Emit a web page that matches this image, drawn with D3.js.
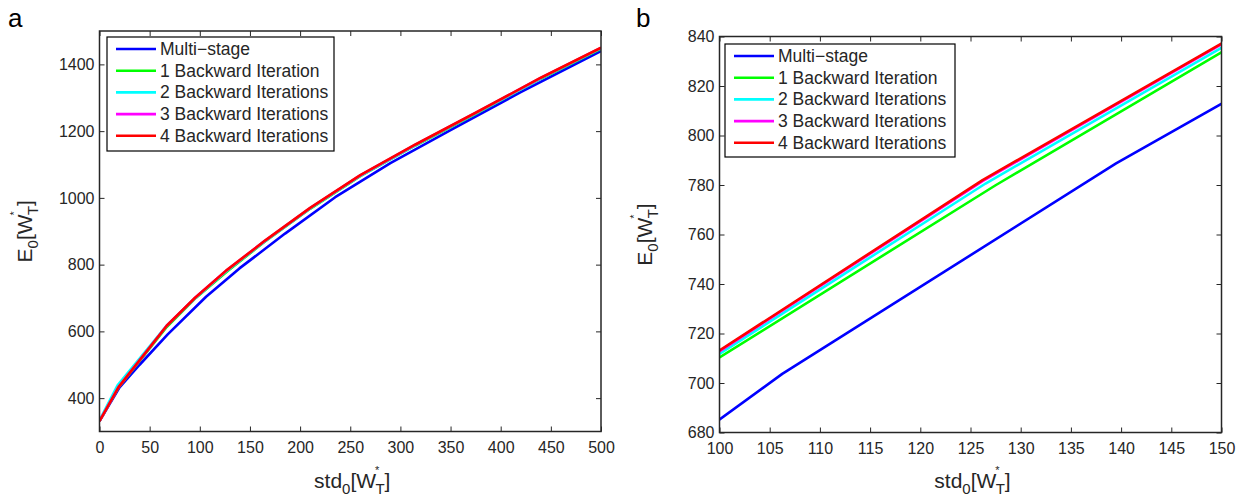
<!DOCTYPE html>
<html>
<head>
<meta charset="utf-8">
<script src="https://cdn.jsdelivr.net/npm/d3@7"></script>
<style>
  html, body { margin: 0; padding: 0; background: #fff; }
  svg { display: block; font-family: "Liberation Sans", Arial, Helvetica, sans-serif; }
</style>
</head>
<body>
<svg id="chart" width="1248" height="500"></svg>
<script>
// Expected initial wealth E0 versus initial standard deviation std0 (both in units of W*_T)
const seriesNames = ["Multi\u2212stage", "1 Backward Iteration", "2 Backward Iterations", "3 Backward Iterations", "4 Backward Iterations"];
const seriesColors = ["#0000ff", "#00ff00", "#00ffff", "#ff00ff", "#ff0000"];

const stdMulti = [0, 20, 40, 68, 106.25, 139.5, 185, 235, 290, 350, 420, 500];
const eMulti   = [331, 432, 500, 591, 703.7, 788.7, 893, 1002, 1104, 1203, 1317, 1440];

const stdBack1 = [0, 19, 67, 96, 127.5, 165, 210, 260, 315, 375, 440, 500];
const eBack1   = [331, 432, 613, 700.2, 779.9, 869.5, 967.3, 1065, 1157, 1252, 1357, 1447];

const stdBack2 = [0, 18, 66, 95, 126.5, 165, 210, 260, 315, 375, 440, 500];
const eBack2   = [333, 438, 614, 698.8, 780.6, 870.5, 968.4, 1066.3, 1158.2, 1253.1, 1358, 1448.5];

const stdBack3 = [0, 19, 67, 95, 126.2, 165, 210, 260, 315, 375, 440, 500];
const eBack3   = [331, 433, 616.8, 699.7, 781.6, 871.6, 969.6, 1067.6, 1159.6, 1254.6, 1359.6, 1449.6];

const stdBack4 = [0, 19, 67, 95, 126.2, 165, 210, 260, 315, 375, 440, 500];
const eBack4   = [331, 433, 617, 700, 782, 872, 970, 1068, 1160, 1255, 1360, 1450];

const stdSets = [stdMulti, stdBack1, stdBack2, stdBack3, stdBack4];
const eSets   = [eMulti, eBack1, eBack2, eBack3, eBack4];

// Tick labels for each panel
const xTicksA = [0, 50, 100, 150, 200, 250, 300, 350, 400, 450, 500];
const yTicksA = [400, 600, 800, 1000, 1200, 1400];
const xTicksB = [100, 105, 110, 115, 120, 125, 130, 135, 140, 145, 150];
const yTicksB = [680, 700, 720, 740, 760, 780, 800, 820, 840];

const series = seriesNames.map((name, i) => ({
  name,
  color: seriesColors[i],
  points: stdSets[i].map((s, j) => ({ std: s, e: eSets[i][j] }))
}));

const svg = d3.select("#chart");

const panels = [
  { id: "a", letter: "a", letterX: 8, letterY: 27,
    left: 99.5, right: 601, top: 31, bottom: 431.5,
    xDomain: [0, 500], yDomain: [300, 1500], xTicks: xTicksA, yTicks: yTicksA,
    legend: { x: 107, y: 37, w: 227, h: 114 } },
  { id: "b", letter: "b", letterX: 636, letterY: 27,
    left: 719.5, right: 1221.5, top: 36.5, bottom: 432.5,
    xDomain: [100, 150], yDomain: [680, 840], xTicks: xTicksB, yTicks: yTicksB,
    legend: { x: 725, y: 44, w: 230, h: 113 } }
];

// "name0[W*T]" style axis title: subscript 0, superscript * raised over subscript T
function subSupTitle(sel, base) {
  sel.append("tspan").text(base);
  sel.append("tspan").attr("dy", 6).style("font-size", "15px").text("0");
  sel.append("tspan").attr("dy", -6).text("[W");
  sel.append("tspan").attr("dy", -14).attr("dx", -1).style("font-size", "11px").text("*");
  sel.append("tspan").attr("dy", 20).attr("dx", -4).style("font-size", "15px").text("T");
  sel.append("tspan").attr("dy", -6).text("]");
}

panels.forEach(p => {
  const x = d3.scaleLinear().domain(p.xDomain).range([p.left, p.right]);
  const y = d3.scaleLinear().domain(p.yDomain).range([p.bottom, p.top]);
  const g = svg.append("g");

  // clip the curves to the axes box
  svg.append("clipPath").attr("id", "clip-" + p.id)
    .append("rect")
    .attr("x", p.left).attr("y", p.top)
    .attr("width", p.right - p.left).attr("height", p.bottom - p.top);

  const line = d3.line().x(d => x(d.std)).y(d => y(d.e));

  g.append("g").attr("clip-path", `url(#clip-${p.id})`)
    .selectAll("path").data(series).join("path")
    .attr("d", d => line(d.points))
    .attr("fill", "none")
    .attr("stroke", d => d.color)
    .attr("stroke-width", 2.6)
    .attr("stroke-linejoin", "round");

  // axes: ticks point inward on all four sides
  const tickLen = 5;
  const axB = d3.axisBottom(x).tickValues(p.xTicks).tickSize(-tickLen).tickPadding(10).tickFormat(d3.format("d"));
  const axT = d3.axisTop(x).tickValues(p.xTicks).tickSize(-tickLen).tickFormat("");
  const axL = d3.axisLeft(y).tickValues(p.yTicks).tickSize(-tickLen).tickPadding(5).tickFormat(d3.format("d"));
  const axR = d3.axisRight(y).tickValues(p.yTicks).tickSize(-tickLen).tickFormat("");

  const styleAxis = sel => {
    sel.select(".domain").remove();
    sel.selectAll(".tick line").attr("stroke", "#262626").attr("stroke-width", 1);
    sel.selectAll(".tick text").attr("fill", "#262626").style("font-size", "16px");
  };
  g.append("g").attr("transform", `translate(0,${p.bottom})`).call(axB).call(styleAxis);
  g.append("g").attr("transform", `translate(0,${p.top})`).call(axT).call(styleAxis);
  g.append("g").attr("transform", `translate(${p.left},0)`).call(axL).call(styleAxis);
  g.append("g").attr("transform", `translate(${p.right},0)`).call(axR).call(styleAxis);

  g.append("rect")
    .attr("x", p.left).attr("y", p.top)
    .attr("width", p.right - p.left).attr("height", p.bottom - p.top)
    .attr("fill", "none").attr("stroke", "#262626").attr("stroke-width", 1.5);

  // axis titles
  g.append("text")
    .attr("x", (p.left + p.right) / 2 + 2).attr("y", 488)
    .attr("text-anchor", "middle").attr("fill", "#262626").style("font-size", "21px")
    .call(subSupTitle, "std");

  g.append("text")
    .attr("transform", `translate(${p.left - 68},${(p.top + p.bottom) / 2}) rotate(-90)`)
    .attr("text-anchor", "middle").attr("fill", "#262626").style("font-size", "21px")
    .call(subSupTitle, "E");

  // panel letter
  svg.append("text").attr("x", p.letterX).attr("y", p.letterY)
    .attr("fill", "#000").style("font-size", "26px").text(p.letter);

  // legend
  const L = p.legend;
  const lg = g.append("g");
  lg.append("rect").attr("x", L.x).attr("y", L.y).attr("width", L.w).attr("height", L.h)
    .attr("fill", "#fff").attr("stroke", "#000").attr("stroke-width", 1.2);
  const rowH = 21.7;
  series.forEach((s, i) => {
    const ry = L.y + 12 + i * rowH;
    lg.append("line").attr("x1", L.x + 9).attr("x2", L.x + 49).attr("y1", ry).attr("y2", ry)
      .attr("stroke", s.color).attr("stroke-width", 2.6);
    lg.append("text").attr("x", L.x + 53).attr("y", ry + 6)
      .attr("fill", "#262626").style("font-size", "17.5px").text(s.name);
  });
});
</script>
</body>
</html>
